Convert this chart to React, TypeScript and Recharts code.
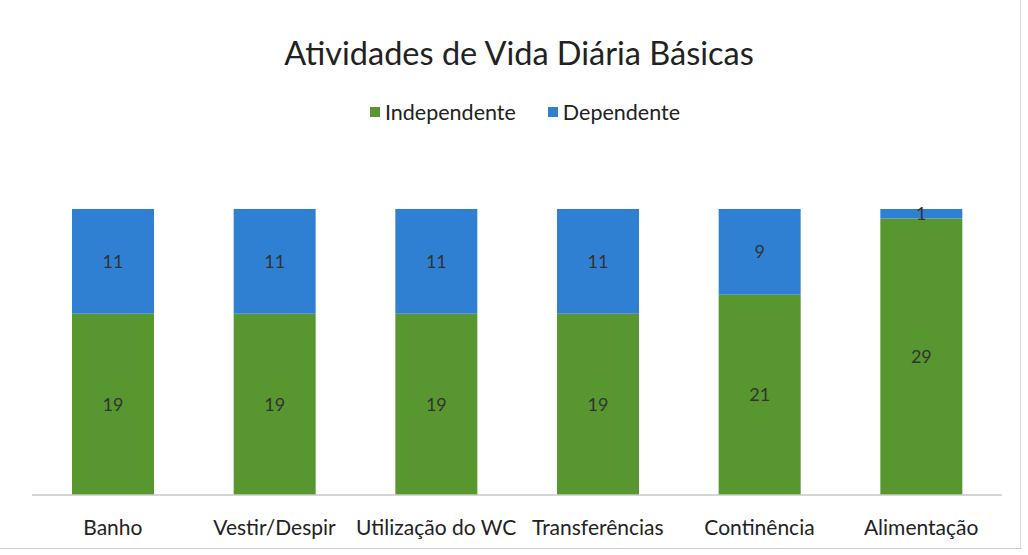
import React from 'react';
import { BarChart, Bar, XAxis, YAxis, Legend, LabelList } from 'recharts';

const categories = ['Banho', 'Vestir/Despir', 'Utilização do WC', 'Transferências', 'Continência', 'Alimentação'];
const independente = [19, 19, 19, 19, 21, 29];
const dependente = [11, 11, 11, 11, 9, 1];

const data = categories.map((c, i) => ({ name: c, Independente: independente[i], Dependente: dependente[i] }));

const GREEN = '#58962f';
const BLUE = '#2f80d3';
const FONT = 'Lato, "Open Sans", sans-serif';

const LegendContent = () => (
  <div style={{ display: 'flex', justifyContent: 'center', alignItems: 'center', fontFamily: FONT, fontSize: 21.5, color: '#222' }}>
    <span style={{ display: 'inline-block', width: 10, height: 10, background: GREEN, marginRight: 5 }} />
    <span style={{ marginRight: 32 }}>Independente</span>
    <span style={{ display: 'inline-block', width: 10, height: 10, background: BLUE, marginRight: 5 }} />
    <span>Dependente</span>
  </div>
);

export default function App() {
  return (
    <div style={{ position: 'absolute', left: 0, top: 0, width: 1028, height: 555, background: '#fff', overflow: 'hidden' }}>
      <div style={{ position: 'absolute', left: 0, top: 33, width: 1038, textAlign: 'center', fontFamily: FONT, fontSize: 32.5, color: '#222', lineHeight: '40px' }}>
        Atividades de Vida Diária Básicas
      </div>
      <div style={{ position: 'absolute', right: 7, top: 0, width: 1, height: 549, background: '#ddd' }} />
      <div style={{ position: 'absolute', left: 0, top: 548, width: 1022, height: 1, background: '#ccc' }} />
      <BarChart width={1028} height={555} data={data} margin={{ top: 209, right: 26, bottom: 30, left: 32 }} barSize={82}>
        <XAxis dataKey="name" axisLine={{ stroke: '#c8c8c8', strokeWidth: 1.5 }} tickLine={false}
          tick={{ fontFamily: FONT, fontSize: 21, fill: '#222' }} tickMargin={19} interval={0} />
        <YAxis hide domain={[0, 30]} />
        <Legend verticalAlign="middle" align="center" content={<LegendContent />}
          wrapperStyle={{ position: 'absolute', top: 99, left: 6, width: 1038 }} />
        <Bar dataKey="Independente" stackId="a" fill={GREEN} isAnimationActive={false}>
          <LabelList dataKey="Independente" position="center" style={{ fontFamily: FONT, fontSize: 18, fill: '#333' }} />
        </Bar>
        <Bar dataKey="Dependente" stackId="a" fill={BLUE} isAnimationActive={false}>
          <LabelList dataKey="Dependente" position="center" style={{ fontFamily: FONT, fontSize: 18, fill: '#333' }} />
        </Bar>
      </BarChart>
    </div>
  );
}
